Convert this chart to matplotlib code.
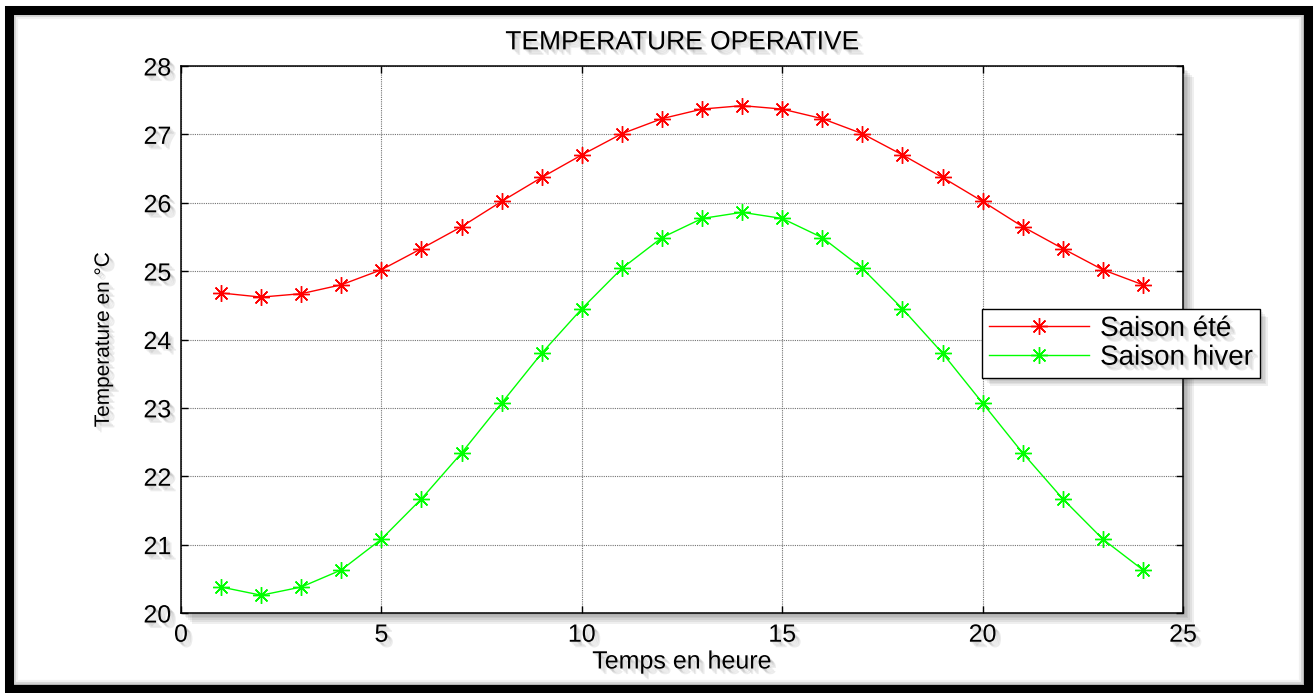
import numpy as np
import matplotlib
matplotlib.use("Agg")
import matplotlib.pyplot as plt
import matplotlib.patheffects as pe
from matplotlib.patches import Rectangle

# Hourly operative temperature, summer and winter season
heures = list(range(1, 25))
t_ete = [24.68, 24.62, 24.67, 24.80, 25.02, 25.33, 25.65, 26.02, 26.37, 26.70,
         27.01, 27.23, 27.37, 27.42, 27.37, 27.23, 27.01, 26.70, 26.37, 26.02,
         25.65, 25.33, 25.02, 24.80]
t_hiver = [20.38, 20.26, 20.38, 20.63, 21.08, 21.67, 22.34, 23.07, 23.80, 24.45,
           25.04, 25.49, 25.77, 25.86, 25.77, 25.49, 25.04, 24.45, 23.80, 23.07,
           22.34, 21.67, 21.08, 20.63]

plt.rcParams['font.family'] = ['Liberation Sans', 'DejaVu Sans']

W, H = 1315, 693
fig = plt.figure(figsize=(W / 100, H / 100), dpi=100)
fig.patch.set_facecolor('white')


def fx(px):
    return px / W


def fy(py):
    return 1 - py / H


def soft(color='k', n=4, alpha=0.12, step=1.0):
    # stacked offset shadows give a soft drop shadow
    effs = [pe.SimplePatchShadow(offset=(step * k, -step * k), shadow_rgbFace=color,
                                 alpha=alpha) for k in range(1, n + 1)]
    return effs + [pe.Normal()]


# outer black frame, with a soft grey shadow stroked just inside it
for k, a in [(3, 0.30), (5, 0.18), (7, 0.08)]:
    fig.patches.append(Rectangle((fx(9 + k), fy(689 - k)), fx(1308 - 2 * k) - fx(9),
                                 fy(10 + k) - fy(689 - k), transform=fig.transFigure,
                                 fill=False, ec='0.35', lw=3, alpha=a, zorder=9))
fig.patches.append(Rectangle((fx(9), fy(689)), fx(1308) - fx(9), fy(10) - fy(689),
                             transform=fig.transFigure, fill=False, ec='black',
                             lw=6.5, zorder=10))

x0, x1, y0, y1 = 181, 1183, 66, 613
ax = fig.add_axes([fx(x0), fy(y1), fx(x1) - fx(x0), fy(y0) - fy(y1)])
ax.patch.set_path_effects(soft('0.2', n=6, alpha=0.08, step=1.3))

ax.plot(heures, t_ete, color=(1, 0, 0), lw=1.0, marker=(8, 2, 0), ms=12,
        mew=1.0, label='Saison été', zorder=3)
ax.plot(heures, t_hiver, color=(0, 1, 0), lw=1.0, marker=(8, 2, 0), ms=12,
        mew=1.0, label='Saison hiver', zorder=3)

ax.set_xlim(0, 25)
ax.set_ylim(20, 28)
ax.set_xticks(np.arange(0, 26, 5))
ax.set_yticks(np.arange(20, 29, 1))
ax.grid(True, color='0.45', linestyle=(0, (1, 1)), lw=0.8)
ax.tick_params(direction='in', length=5, width=1, top=True, right=True,
               labelsize=18, pad=7)
for s in ax.spines.values():
    s.set_linewidth(1.1)

txt_fx = soft('0.3', n=4, alpha=0.1, step=1.0)
for lab in ax.get_xticklabels() + ax.get_yticklabels():
    lab.set_path_effects(txt_fx)

ax.set_title('TEMPERATURE OPERATIVE', fontsize=19, pad=12, path_effects=txt_fx)
ax.set_xlabel('Temps en heure', fontsize=18, labelpad=2, path_effects=txt_fx)
ax.set_ylabel('Temperature en °C', fontsize=15, labelpad=22, path_effects=txt_fx)

leg = ax.legend(loc='upper left', bbox_to_anchor=(fx(982), fy(309)),
                bbox_transform=fig.transFigure, fontsize=20, handlelength=3.6,
                handletextpad=0.4, borderpad=0.25, labelspacing=0.1,
                fancybox=False, framealpha=1, edgecolor='black',
                borderaxespad=0)
leg.get_frame().set_linewidth(1.0)
leg.get_frame().set_path_effects(soft('0.2', n=5, alpha=0.08, step=1.2))
leg.set_zorder(5)
for t in leg.get_texts():
    t.set_path_effects(txt_fx)

fig.savefig('out.png', dpi=100)
